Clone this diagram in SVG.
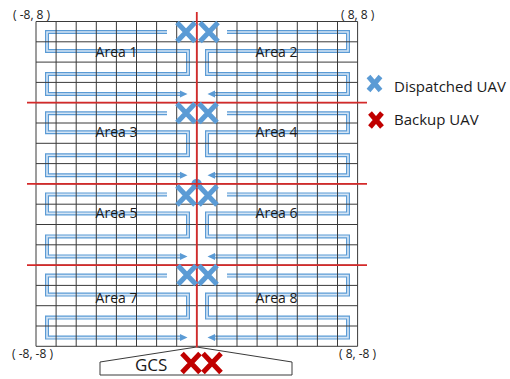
<svg xmlns="http://www.w3.org/2000/svg" xmlns:xlink="http://www.w3.org/1999/xlink" width="510" height="379" viewBox="0 0 510 379">
<style>
.grid line{stroke:#3a3a3a;stroke-width:1}
.red{stroke:#d42a2a;stroke-width:1.8;fill:none}
.outer{fill:none;stroke:#5b9bd5;stroke-width:4;stroke-linejoin:miter}
.inner{fill:none;stroke:#d6e6f5;stroke-width:1.6;stroke-linejoin:miter}
.bx{stroke:#5b9bd5;stroke-width:5;stroke-linecap:butt;fill:none}
.rx{stroke:#c00000;stroke-width:5;stroke-linecap:butt;fill:none}
.lbl{font-family:"Open Sans","Liberation Sans",sans-serif;fill:#1a1a1a}
.area{font-size:14px;text-anchor:middle}
.coord{font-size:12px}
.leg{font-size:15px}
</style>
<defs>
<marker id="arr" markerUnits="userSpaceOnUse" markerWidth="10" markerHeight="10" refX="0" refY="0" viewBox="0 -5 10 10" orient="auto" overflow="visible">
<path d="M0,-3.5 L7.5,0 L0,3.5 z" fill="#5b9bd5"/>
</marker>
<path id="pl" d="M167,10.5 H47 V29.5 H188 V52.5 H47 V72.5 H180"/>
<path id="pr" d="M227,10.5 H348 V29.5 H207 V52.5 H348 V72.5 H215"/>
<g id="xb"><path class="bx" d="M-9,-9.5 L9,9.5 M9,-9.5 L-9,9.5"/></g>
<g id="xr"><path class="rx" d="M-9,-9.5 L9,9.5 M9,-9.5 L-9,9.5"/></g>
</defs>
<rect width="510" height="379" fill="#fff"/>
<g id="connectors">
<g transform="translate(0,21.5)"><use xlink:href="#pl" class="outer" marker-end="url(#arr)"/><use xlink:href="#pl" class="inner"/><use xlink:href="#pr" class="outer" marker-end="url(#arr)"/><use xlink:href="#pr" class="inner"/></g>
<g transform="translate(0,102.7)"><use xlink:href="#pl" class="outer" marker-end="url(#arr)"/><use xlink:href="#pl" class="inner"/><use xlink:href="#pr" class="outer" marker-end="url(#arr)"/><use xlink:href="#pr" class="inner"/></g>
<g transform="translate(0,183.9)"><use xlink:href="#pl" class="outer" marker-end="url(#arr)"/><use xlink:href="#pl" class="inner"/><use xlink:href="#pr" class="outer" marker-end="url(#arr)"/><use xlink:href="#pr" class="inner"/></g>
<g transform="translate(0,265.1)"><use xlink:href="#pl" class="outer" marker-end="url(#arr)"/><use xlink:href="#pl" class="inner"/><use xlink:href="#pr" class="outer" marker-end="url(#arr)"/><use xlink:href="#pr" class="inner"/></g>
</g>
<g id="grid" class="grid">
<line x1="36" y1="21.5" x2="36" y2="346.3"/><line x1="56.1" y1="21.5" x2="56.1" y2="346.3"/><line x1="76.2" y1="21.5" x2="76.2" y2="346.3"/><line x1="96.3" y1="21.5" x2="96.3" y2="346.3"/><line x1="116.4" y1="21.5" x2="116.4" y2="346.3"/><line x1="136.5" y1="21.5" x2="136.5" y2="346.3"/><line x1="156.6" y1="21.5" x2="156.6" y2="346.3"/><line x1="176.7" y1="21.5" x2="176.7" y2="346.3"/><line x1="196.8" y1="21.5" x2="196.8" y2="346.3"/><line x1="216.9" y1="21.5" x2="216.9" y2="346.3"/><line x1="237" y1="21.5" x2="237" y2="346.3"/><line x1="257.1" y1="21.5" x2="257.1" y2="346.3"/><line x1="277.2" y1="21.5" x2="277.2" y2="346.3"/><line x1="297.3" y1="21.5" x2="297.3" y2="346.3"/><line x1="317.4" y1="21.5" x2="317.4" y2="346.3"/><line x1="337.5" y1="21.5" x2="337.5" y2="346.3"/><line x1="357.6" y1="21.5" x2="357.6" y2="346.3"/>
<line x1="36" y1="21.5" x2="357.6" y2="21.5"/><line x1="36" y1="41.8" x2="357.6" y2="41.8"/><line x1="36" y1="62.1" x2="357.6" y2="62.1"/><line x1="36" y1="82.4" x2="357.6" y2="82.4"/><line x1="36" y1="102.7" x2="357.6" y2="102.7"/><line x1="36" y1="123" x2="357.6" y2="123"/><line x1="36" y1="143.3" x2="357.6" y2="143.3"/><line x1="36" y1="163.6" x2="357.6" y2="163.6"/><line x1="36" y1="183.9" x2="357.6" y2="183.9"/><line x1="36" y1="204.2" x2="357.6" y2="204.2"/><line x1="36" y1="224.5" x2="357.6" y2="224.5"/><line x1="36" y1="244.8" x2="357.6" y2="244.8"/><line x1="36" y1="265.1" x2="357.6" y2="265.1"/><line x1="36" y1="285.4" x2="357.6" y2="285.4"/><line x1="36" y1="305.7" x2="357.6" y2="305.7"/><line x1="36" y1="326" x2="357.6" y2="326"/><line x1="36" y1="346.3" x2="357.6" y2="346.3"/>
</g>
<circle cx="196.6" cy="184" r="5.2" fill="#5b9bd5"/>
<g id="dividers">
<line class="red" x1="27" y1="102.7" x2="367" y2="102.7"/>
<line class="red" x1="27" y1="183.9" x2="367" y2="183.9"/>
<line class="red" x1="27" y1="265.1" x2="367" y2="265.1"/>
</g>
<g id="area-labels" class="lbl area">
<text id="area1" x="116.5" y="57">Area 1</text>
<text id="area2" x="276.5" y="57">Area 2</text>
<text id="area3" x="116.5" y="137">Area 3</text>
<text id="area4" x="276.5" y="137">Area 4</text>
<text id="area5" x="116.5" y="218">Area 5</text>
<text id="area6" x="276.5" y="218">Area 6</text>
<text id="area7" x="116.5" y="303">Area 7</text>
<text id="area8" x="276.5" y="303">Area 8</text>
</g>
<g id="gcs">
<polygon points="100,375 100,362 196.6,347 292,362 292,375" fill="#fff" stroke="#3a3a3a" stroke-width="1"/>
<text class="lbl" x="135" y="370.5" font-size="17">GCS</text>
</g>
<line class="red" x1="196.8" y1="12" x2="196.8" y2="347.5"/>
<g id="dispatched-uavs">
<use xlink:href="#xb" x="186" y="32"/><use xlink:href="#xb" x="209" y="32"/>
<use xlink:href="#xb" x="186" y="113"/><use xlink:href="#xb" x="208" y="113"/>
<use xlink:href="#xb" x="186" y="195.5"/><use xlink:href="#xb" x="208" y="195.5"/>
<use xlink:href="#xb" x="187" y="275"/><use xlink:href="#xb" x="208" y="275"/>
</g>
<g id="backup-uavs">
<use xlink:href="#xr" x="191" y="363"/><use xlink:href="#xr" x="212" y="363"/>
</g>
<g id="coords" class="lbl coord">
<text x="13" y="19">( -8, 8 )</text>
<text x="341" y="19">( 8, 8 )</text>
<text x="12" y="358">( -8, -8 )</text>
<text x="339" y="358">( 8, -8 )</text>
</g>
<g id="legend">
<path class="bx" d="M368.5,76.5 L380.5,90.5 M380.5,76.5 L368.5,90.5"/>
<text class="lbl leg" x="394" y="92">Dispatched UAV</text>
<path class="rx" d="M370,113 L382,127 M382,113 L370,127"/>
<text class="lbl leg" x="394" y="125">Backup UAV</text>
</g>
</svg>
